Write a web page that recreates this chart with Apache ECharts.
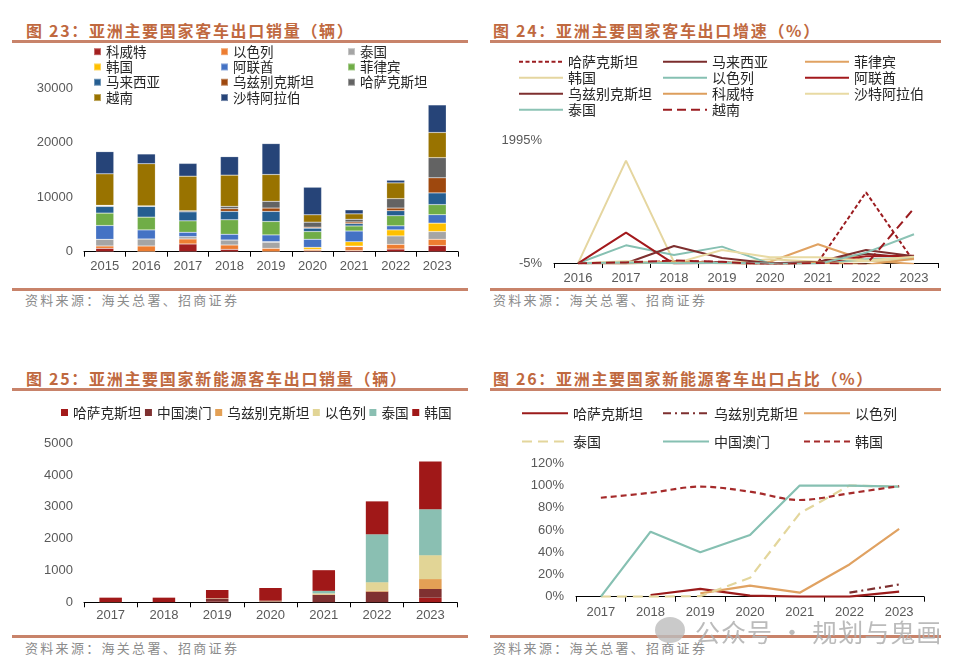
<!DOCTYPE html>
<html><head><meta charset="utf-8">
<script src="https://cdn.jsdelivr.net/npm/echarts@6/dist/echarts.min.js"></script>
<style>
body{margin:0;background:#fff;width:966px;height:670px;overflow:hidden;position:relative;font-family:"Noto Sans CJK SC",sans-serif}
.c{position:absolute;left:0;top:0;width:966px;height:670px}
.t{position:absolute;font-size:16px;font-weight:bold;color:#C0693F;letter-spacing:1.7px;white-space:nowrap;line-height:20px}
.l{position:absolute;height:3px;background:#C8836A}
.s{position:absolute;font-size:13px;color:#8C8C8C;letter-spacing:2.3px;white-space:nowrap;line-height:16px}
.wm{position:absolute;left:695px;top:616px;font-size:25px;color:#AFAFAF;letter-spacing:1px;white-space:nowrap;line-height:30px;opacity:.85}
.wi{position:absolute;left:655px;top:617px;width:30px;height:26px;border-radius:50%;background:#BDBDBD;opacity:.8}
</style></head>
<body>
<div class="t" style="left:26px;top:20px">图 23：亚洲主要国家客车出口销量（辆）</div>
<div class="t" style="left:493px;top:20px">图 24：亚洲主要国家客车出口增速（%）</div>
<div class="t" style="left:26px;top:368px">图 25：亚洲主要国家新能源客车出口销量（辆）</div>
<div class="t" style="left:493px;top:368px">图 26：亚洲主要国家新能源客车出口占比（%）</div>
<div class="l" style="left:12px;width:456px;top:40px"></div>
<div class="l" style="left:490px;width:451px;top:40px"></div>
<div class="l" style="left:12px;width:456px;top:288px"></div>
<div class="l" style="left:490px;width:451px;top:288px"></div>
<div class="l" style="left:12px;width:456px;top:388px"></div>
<div class="l" style="left:490px;width:451px;top:388px"></div>
<div class="l" style="left:12px;width:456px;top:635px"></div>
<div class="l" style="left:490px;width:451px;top:635px"></div>
<div class="s" style="left:25px;top:292px">资料来源：海关总署、招商证券</div>
<div class="s" style="left:493px;top:292px">资料来源：海关总署、招商证券</div>
<div class="s" style="left:25px;top:640px">资料来源：海关总署、招商证券</div>
<div class="s" style="left:493px;top:640px">资料来源：海关总署、招商证券</div>
<div id="c1" class="c"></div>
<div id="c2" class="c"></div>
<div id="c3" class="c"></div>
<div id="c4" class="c"></div>
<div class="wi"></div>
<div class="wm">公众号 · 规划与鬼画</div>
<script>
// ---------- Chart 23 data ----------
const years23 = ['2015','2016','2017','2018','2019','2020','2021','2022','2023'];
const kuwait23 = [615, 0, 1415, 430, 0, 150, 185, 490, 1110];
const israel23 = [430, 1045, 920, 800, 615, 280, 740, 860, 1170];
const thailand23 = [1230, 1290, 430, 920, 1130, 0, 100, 1540, 1415];
const korea23 = [0, 0, 0, 0, 100, 370, 800, 1110, 1540];
const uae23 = [2520, 1660, 800, 1050, 1230, 1480, 1970, 740, 1540];
const philippines23 = [2280, 2340, 2090, 2650, 2460, 1415, 923, 1850, 1850];
const malaysia23 = [1230, 1970, 1660, 1540, 1850, 615, 430, 920, 2150];
const uzbek23 = [100, 0, 0, 490, 615, 185, 300, 490, 2770];
const kazakh23 = [100, 100, 185, 430, 1230, 920, 500, 1720, 3690];
const vietnam23 = [5770, 7715, 6340, 5720, 4920, 1350, 985, 2890, 4615];
const saudi23 = [4060, 1785, 2340, 3385, 5660, 5050, 738, 490, 5046];

// ---------- Chart 24 data (growth, %) ----------
const years24 = ['2016','2017','2018','2019','2020','2021','2022','2023'];
const kazakh24 = [-5, 5, 30, 15, -25, 10, 1153, 20];
const malaysia24 = [-5, -10, 25, 10, -30, 20, 150, 80];
const philippines24 = [-5, 10, 15, -10, 20, 305, 40, -15];
const korea24 = [-5, 1669, 15, 0, 60, 20, 30, 60];
const israel24 = [-5, 288, 131, 267, -10, -5, 60, 90];
const uae24 = [-5, 495, -15, 5, -15, 0, 110, 120];
const uzbek24 = [-5, -5, 278, 80, -5, 15, 212, 110];
const kuwait24 = [-5, -15, 20, -5, -40, 10, -30, 70];
const saudi24 = [-5, 30, -10, 212, 93, 93, 40, 100];
const thailand24 = [-5, 10, -5, 5, -10, -15, 169, 468];
const vietnam24 = [-5, 10, 40, 20, -30, 0, -30, 892];
const yTicks24 = [-5, 1995];

// ---------- Chart 25 data (NEV bus exports) ----------
const years25 = ['2017','2018','2019','2020','2021','2022','2023'];
const kazakh25 = [0, 0, 20, 0, 0, 0, 146];
const macau25 = [0, 10, 90, 30, 230, 334, 272];
const uzbek25 = [0, 0, 0, 0, 20, 30, 313];
const israel25 = [6, 0, 15, 20, 30, 270, 752];
const thailand25 = [0, 0, 0, 0, 80, 1505, 1442];
const korea25 = [140, 136, 262, 400, 650, 1035, 1505];

// ---------- Chart 26 data (NEV share, %) ----------
const years26 = ['2017','2018','2019','2020','2021','2022','2023'];
const kazakh26 = [null, 1.5, 7, 1, 0, 0, 4.5];
const uzbek26 = [null, null, null, null, null, 3.6, 11];
const israel26 = [null, null, 3, 10, 3.6, 29, 61];
const thailand26 = [0, 0, 0.5, 17, 75, 100, 99];
const macau26 = [0, 58.5, 40, 55.5, 100, 100, 99];
const korea26 = [89, 93.5, 99, 94.5, 87, 93, 99.5];

const NUM = 'Liberation Sans, Arial, sans-serif';
const CJK = 'Noto Sans CJK SC, sans-serif';
const axisCol = '#595959';
const plain = v => String(v);
const pct = v => String(v) + '%';

function xCat(data, margin){
  return {type:'category', data, boundaryGap:true,
    axisLine:{lineStyle:{color:'#000', width:1}},
    axisTick:{show:true, length:5, lineStyle:{color:'#000'}},
    axisLabel:{color:axisCol, fontSize:13, fontFamily:NUM, margin}};
}
function vLegend(names, left, top, extra){
  return Object.assign({orient:'vertical', left, top, padding:0, itemGap:0, data:names,
    textStyle:{fontSize:13.5, fontFamily:CJK, color:'#262626', lineHeight:15.3}}, extra||{});
}
const noSym = {color:'rgba(0,0,0,0)', borderWidth:0, opacity:0};

// ---------- Chart 23 ----------
const c1 = echarts.init(document.getElementById('c1'));
const s23 = [
  ['科威特', kuwait23, '#A31F1F'],
  ['以色列', israel23, '#ED7D31'],
  ['泰国', thailand23, '#A5A5A5'],
  ['韩国', korea23, '#FFC000'],
  ['阿联酋', uae23, '#4472C4'],
  ['菲律宾', philippines23, '#70AD47'],
  ['马来西亚', malaysia23, '#255E91'],
  ['乌兹别克斯坦', uzbek23, '#9E480E'],
  ['哈萨克斯坦', kazakh23, '#636363'],
  ['越南', vietnam23, '#997300'],
  ['沙特阿拉伯', saudi23, '#264478']
];
const leg23 = {itemWidth:7, itemHeight:7, icon:'rect'};
c1.setOption({
  animation:false,
  grid:{left:84, right:508, top:88, bottom:418.3},
  legend:[
    vLegend(['科威特','韩国','马来西亚','越南'], 93, 44, leg23),
    vLegend(['以色列','阿联酋','乌兹别克斯坦','沙特阿拉伯'], 220, 44, leg23),
    vLegend(['泰国','菲律宾','哈萨克斯坦'], 347, 44, leg23)
  ],
  xAxis: xCat(years23, 8),
  yAxis:{type:'value', min:0, max:30000, interval:10000,
    axisLine:{show:false}, axisTick:{show:false}, splitLine:{show:false},
    axisLabel:{color:axisCol, fontSize:13, fontFamily:NUM, margin:11, formatter:plain}},
  series: s23.map(([n,d,c]) => ({name:n, type:'bar', stack:'a', data:d, barWidth:18,
    itemStyle:{color:c, borderColor:'rgba(255,255,255,0.35)', borderWidth:0.5}}))
});

// ---------- Chart 24 ----------
const c2 = echarts.init(document.getElementById('c2'));
const s24 = [
  ['哈萨克斯坦', kazakh24, '#9B1C20', [4,2.5]],
  ['马来西亚', malaysia24, '#7B2C2C', 'solid'],
  ['菲律宾', philippines24, '#E0A262', 'solid'],
  ['韩国', korea24, '#E5D6A0', 'solid'],
  ['以色列', israel24, '#86C0B2', 'solid'],
  ['阿联酋', uae24, '#A3191C', 'solid'],
  ['乌兹别克斯坦', uzbek24, '#7E2F2F', 'solid'],
  ['科威特', kuwait24, '#DD9E5C', 'solid'],
  ['沙特阿拉伯', saudi24, '#E8DAA3', 'solid'],
  ['泰国', thailand24, '#8CC3B5', 'solid'],
  ['越南', vietnam24, '#9B1C20', [9,5]]
];
const leg24 = {itemWidth:44, itemHeight:14, itemStyle:noSym, textStyle:{fontSize:14, fontFamily:CJK, color:'#262626', lineHeight:16}};
c2.setOption({
  animation:false,
  grid:{left:554, right:28, top:140.7, bottom:406.7},
  legend:[
    vLegend(['哈萨克斯坦','韩国','乌兹别克斯坦','泰国'], 518, 53.7, leg24),
    vLegend(['马来西亚','以色列','科威特','越南'], 662, 53.7, leg24),
    vLegend(['菲律宾','阿联酋','沙特阿拉伯'], 804, 53.7, leg24)
  ],
  xAxis: xCat(years24, 9),
  yAxis:{type:'value', min:-5, max:1995,
    axisLine:{show:false}, axisTick:{show:false}, splitLine:{show:false},
    axisLabel:{color:axisCol, fontSize:13, fontFamily:NUM, margin:12, formatter:pct, customValues:yTicks24}},
  series: s24.map(([n,d,c,t]) => ({name:n, type:'line', data:d, symbol:'none',
    lineStyle:{color:c, width:2, type:t}, itemStyle:{color:c}}))
});

// ---------- Chart 25 ----------
const c3 = echarts.init(document.getElementById('c3'));
const s25 = [
  ['哈萨克斯坦', kazakh25, '#A31A1A'],
  ['中国澳门', macau25, '#7F3131'],
  ['乌兹别克斯坦', uzbek25, '#E3A055'],
  ['以色列', israel25, '#E2D596'],
  ['泰国', thailand25, '#8ABFB2'],
  ['韩国', korea25, '#A01818']
];
c3.setOption({
  animation:false,
  grid:{left:84, right:509, top:443.3, bottom:67.7},
  legend:{orient:'horizontal', left:61, top:405, padding:0, itemGap:3.5, itemWidth:7, itemHeight:7, icon:'rect',
    textStyle:{fontSize:13.7, fontFamily:CJK, color:'#262626', lineHeight:15}},
  xAxis: xCat(years25, 7),
  yAxis:{type:'value', min:0, max:5000, interval:1000,
    axisLine:{show:false}, axisTick:{show:false}, splitLine:{show:false},
    axisLabel:{color:axisCol, fontSize:13, fontFamily:NUM, margin:11, formatter:plain}},
  series: s25.map(([n,d,c]) => ({name:n, type:'bar', stack:'a', data:d, barWidth:22.5,
    itemStyle:{color:c}}))
});

// ---------- Chart 26 ----------
const c4 = echarts.init(document.getElementById('c4'));
const s26 = [
  ['哈萨克斯坦', kazakh26, '#9B1B1B', 'solid', false],
  ['乌兹别克斯坦', uzbek26, '#7E2F2F', [8,4,2,4], false],
  ['以色列', israel26, '#E0A262', 'solid', false],
  ['泰国', thailand26, '#E3D69C', [10,6], false],
  ['中国澳门', macau26, '#86C0B2', 'solid', false],
  ['韩国', korea26, '#A52A2A', [6,4], 0.35]
];
const leg26 = {itemWidth:46, itemHeight:14, itemGap:12.3, itemStyle:noSym, textStyle:{fontSize:14, fontFamily:CJK, color:'#262626', lineHeight:16}};
c4.setOption({
  animation:false,
  grid:{left:576, right:42, top:463.3, bottom:73.3},
  legend:[
    vLegend(['哈萨克斯坦','泰国'], 521, 405.3, leg26),
    vLegend(['乌兹别克斯坦','中国澳门'], 662, 405.3, leg26),
    vLegend(['以色列','韩国'], 803, 405.3, leg26)
  ],
  xAxis: xCat(years26, 9),
  yAxis:{type:'value', min:0, max:120, interval:20,
    axisLine:{show:false}, axisTick:{show:false}, splitLine:{show:false},
    axisLabel:{color:axisCol, fontSize:13, fontFamily:NUM, margin:12, formatter:pct}},
  series: s26.map(([n,d,c,t,sm]) => ({name:n, type:'line', data:d, symbol:'none', smooth:sm,
    lineStyle:{color:c, width:2.2, type:t}, itemStyle:{color:c}}))
});
</script>
</body></html>
